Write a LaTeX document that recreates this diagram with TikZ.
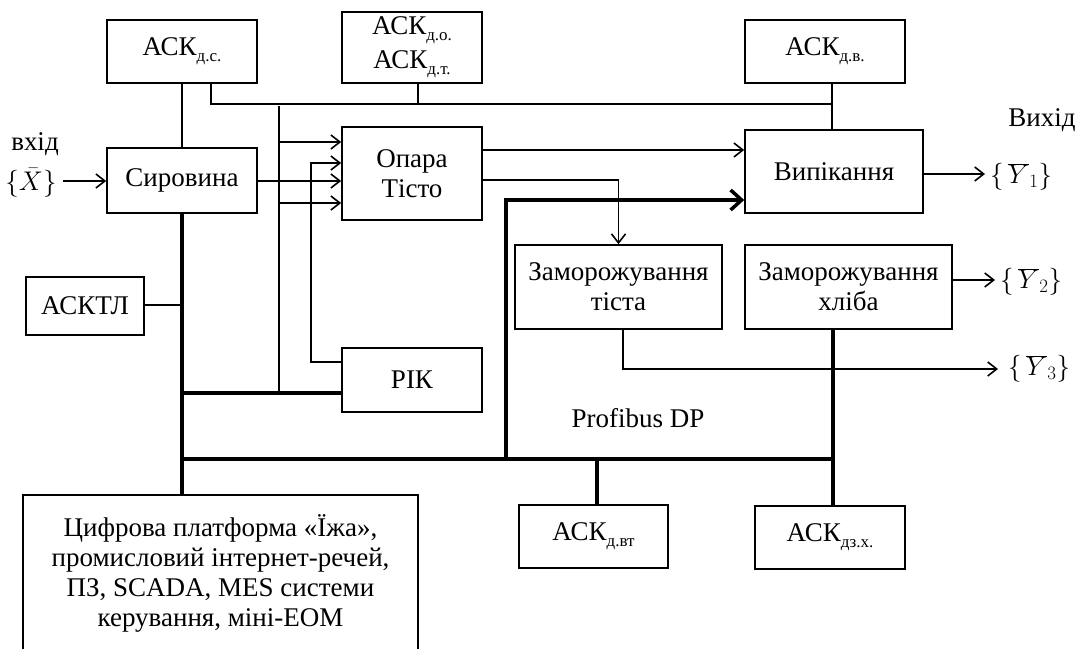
\RequirePackage{fix-cm}
\documentclass[tikz,border=0pt]{standalone}
\usepackage{fontspec}
\setmainfont{Liberation Serif}
\usetikzlibrary{arrows.meta}
\newcommand\lowsub[1]{\raisebox{-0.5ex}{\fontsize{17}{17}\selectfont #1}}
\begin{document}
\begin{tikzpicture}[x=1pt,y=-1pt,
  box/.style={draw, line width=1.6pt, rectangle, inner sep=0pt, align=center,
    font=\fontsize{27}{30}\selectfont},
  lbl/.style={inner sep=0pt, font=\fontsize{27}{30}\selectfont},
  thinl/.style={line width=1.6pt},
  busline/.style={line width=4.5pt},
  arr/.style={thinl, -{Straight Barb[length=9pt,width=14pt,line width=1.6pt]}},
  bigarr/.style={busline, -{Straight Barb[length=11pt,width=20pt,line width=3.5pt]}}]
\useasboundingbox (0,0) rectangle (1087,648);

% boxes
\node[box, minimum width=150, minimum height=63] (dsc) at (182,51.5) {АСК\lowsub{д.с.}};
\node[box, minimum width=140, minimum height=71] (dot) at (412,47.5) {АСК\lowsub{д.о.}\\[4pt]АСК\lowsub{д.т.}};
\node[box, minimum width=160, minimum height=63] (dv) at (825,51.5) {АСК\lowsub{д.в.}};
\node[box, minimum width=150, minimum height=65] (sir) at (182,180.5) {Сировина};
\node[box, minimum width=140, minimum height=93] (opara) at (412,173.5) {Опара\\Тісто};
\node[box, minimum width=178, minimum height=83] (vyp) at (834,171.5) {Випікання};
\node[box, minimum width=207, minimum height=84] (zt) at (618.5,287) {Заморожування\\тіста};
\node[box, minimum width=207, minimum height=84] (zh) at (848.5,287) {Заморожування\\хліба};
\node[box, minimum width=118, minimum height=58] (asktl) at (85,306) {АСКТЛ};
\node[box, minimum width=140, minimum height=64] (rik) at (412,380) {РІК};
\node[box, minimum width=149, minimum height=63] (dvt) at (593.5,536.5) {АСК\lowsub{д.вт}};
\node[box, minimum width=150, minimum height=63] (dzx) at (830,537.5) {АСК\lowsub{дз.х.}};
\node[box, minimum width=395, minimum height=157] (plat) at (220.5,573.5)
  {Цифрова платформа «Їжа»,\\промисловий інтернет-речей,\\ПЗ, SCADA, MES системи\\керування, міні-ЕОМ};

% labels
\node[lbl] (vkhid) at (35,144) {вхід};
\node[lbl] (xin) at (31,183) {$\{\bar{X}\}$};
\node[lbl] (vykhid) at (1042,120) {Вихід};
\node[lbl, anchor=west] (y1) at (990,177) {$\{\,\overline{Y}_1\}$};
\node[lbl, anchor=west] (y2) at (1000,282) {$\{\,\overline{Y}_2\}$};
\node[lbl, anchor=west] (y3) at (1008,369) {$\{\,\overline{Y}_3\}$};
\node[lbl] (prof) at (638,418) {Profibus DP};

% coordinates
\coordinate (hl) at (0,104);
\coordinate (ta) at (279,106);
\coordinate (tb) at (279,393);
\coordinate (busL) at (182,459);
\coordinate (busR) at (833,459);
\coordinate (tk) at (506,459);
\coordinate (in0) at (63,181);
\coordinate (o1) at (985,174);
\coordinate (o2) at (995,280);
\coordinate (o3) at (998,369);
\coordinate (rk) at (311,163);

% thin connectors
\draw[thinl] (dsc.south) -- (sir.north);
\draw[thinl] ([xshift=29pt]dsc.south) |- ([xshift=7pt]dv.south |- hl);
\draw[thinl] ([xshift=6pt]dot.south) -- ([xshift=6pt]dot.south |- hl);
\draw[thinl] ([xshift=7pt]dv.south) -- ([xshift=7pt]dv.south |- vyp.north);
\draw[thinl] (ta) -- (tb);
\draw[arr] (ta |- 0,142) -- (opara.west |- 0,142);
\draw[arr] (ta |- 0,203) -- (opara.west |- 0,203);
\draw[arr] (rik.west |- 0,362) -| (rk) -- (opara.west |- rk);
\draw[arr] (in0) -- (sir.west |- in0);
\draw[arr] (sir.east |- 0,181) -- (opara.west |- 0,181);
\draw[thinl] (asktl.east |- 0,305) -- (sir.south |- 0,305);
\draw[arr] (opara.east |- 0,150) -- (vyp.west |- 0,150);
\draw[arr] (opara.east |- 0,180) -| (zt.north);
\draw[arr] (vyp.east |- o1) -- (o1);
\draw[arr] (zh.east |- o2) -- (o2);
\draw[arr] ([xshift=4.5pt]zt.south) |- (o3);

% thick bus lines
\draw[busline] (sir.south) -- (sir.south |- plat.north);
\draw[busline] (sir.south |- tb) -- (rik.west |- tb);
\draw[busline] (busL) -- (busR);
\draw[bigarr] (tk) |- (vyp.west |- 0,200);
\draw[busline] ([xshift=3.5pt]dvt.north) -- ([xshift=3.5pt]dvt.north |- busL);
\draw[busline] ([xshift=-15.5pt]zh.south) -- ([xshift=3pt]dzx.north);
\end{tikzpicture}
\end{document}
